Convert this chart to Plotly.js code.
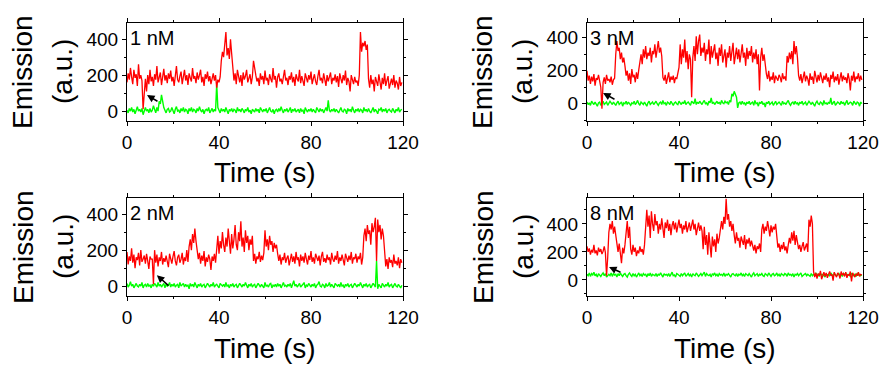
<!DOCTYPE html>
<html>
<head>
<meta charset="utf-8">
<script src="https://cdn.plot.ly/plotly-3.0.1.min.js"></script>
<style>html,body{margin:0;padding:0;background:#fff;}#chart{width:882px;height:365px;}</style>
</head>
<body>
<div id="chart"></div>
<script>
// Sample interval (s)
const step = 0.5;
const panelLabels = ["1 nM", "3 nM", "2 nM", "8 nM"];
const xTicks = [0, 40, 80, 120];
const yTicks = [0, 200, 400];

// 1 nM
const red1 = [160,210,175,240,190,150,230,185,205,140,260,180,200,170,
10,120,180,110,200,150,
230,165,190,140,205,175,250,160,195,215,
145,185,235,170,200,155,210,180,225,165,
190,140,205,250,175,160,195,220,150,185,
230,170,200,145,210,185,165,240,180,195,
155,215,175,200,230,160,190,140,205,180,
220,165,195,150,185,210,170,200,130,175,
160,190,280,330,300,370,440,310,350,290,400,320,250,
170,210,150,230,185,160,200,140,215,175,195,230,160,180,205,150,190,280,230,
200,165,185,140,210,175,195,150,225,170,
185,145,205,180,160,240,175,195,130,190,
210,165,180,150,200,230,170,185,145,195,
175,215,160,190,140,205,180,165,230,155,
195,170,140,210,185,160,200,175,220,150,
180,205,165,145,195,230,170,185,155,210,
175,140,200,165,190,215,150,185,170,205,
160,195,135,210,180,155,200,170,225,145,
185,165,110,200,175,150,190,160,
170,140,200,440,330,380,360,390,340,370,
180,130,200,150,175,110,190,160,140,205,
165,120,185,150,210,140,170,195,125,160,
180,145,200,130,170,155,120,190,140,160];
const green1 = [5,-10,15,0,20,-5,10,-15,5,25,
0,10,-5,15,-20,5,20,0,10,-10,
15,-5,5,30,10,-10,20,0,55,40,
90,50,20,5,-10,10,15,-5,0,20,
5,-15,10,25,0,5,-10,15,0,20,
-5,10,5,-15,15,0,20,-5,10,5,
-10,15,0,25,5,-5,10,-15,5,10,
0,20,-10,5,15,-5,10,0,150,20,
5,-10,15,0,10,-5,20,5,-15,10,
0,15,-5,10,5,-10,20,0,10,-5,
15,5,-10,10,0,20,-5,5,-15,10,
5,-5,15,0,10,-10,20,5,-5,10,
0,15,-10,5,20,0,-5,10,-15,5,
10,-5,15,0,25,5,-10,10,0,15,
-5,5,20,-10,10,0,15,-5,5,10,
-10,15,0,5,-15,20,5,-5,10,0,
15,-5,10,0,-10,20,5,-5,15,0,
10,-10,5,20,0,60,5,-5,10,0,
15,-5,10,0,-10,5,20,0,-5,10,
5,-15,15,0,10,-5,25,5,-10,10,
0,15,-5,10,5,-10,20,0,10,-5,
15,0,-10,5,20,-5,10,0,-15,10,
5,20,-5,10,0,15,-10,5,10,0,
-5,15,5,-10,10,0,20,-5,5,10];

// 3 nM
const red2 = [200,140,170,120,165,135,180,110,155,145,175,125,
100,-30,130,
160,120,175,140,150,130,165,115,145,155,
300,380,320,340,270,310,250,280,230,
170,200,140,185,120,210,160,175,130,190,150,205,
260,300,240,330,280,350,270,310,290,340,250,320,300,360,280,330,380,310,340,290,
160,140,175,120,155,190,130,165,145,170,125,160,150,180,
220,
360,240,330,280,390,250,320,210,300,270,
40,
280,350,260,410,300,380,420,290,340,310,
370,260,330,300,390,240,350,280,320,360,
270,310,230,340,290,360,250,300,330,220,
310,280,350,260,320,370,240,300,340,270,
330,250,300,360,280,310,230,340,270,320,
290,350,250,310,270,330,240,300,80,280,
340,260,300,230,
180,150,200,135,165,145,190,125,170,155,140,175,160,130,185,150,165,140,
290,250,310,270,320,240,380,300,350,280,
170,
140,180,125,160,195,135,170,150,110,185,
145,165,120,200,155,130,175,140,190,160,
125,170,145,185,135,160,100,175,150,195,
130,165,140,180,115,155,190,135,170,145,
160,125,185,150,80,170,140,195,130,165,
150,185,135,170,145];
const green2 = [10,-5,5,-10,15,0,-5,10,0,-15,
5,10,-10,0,15,-5,5,10,-10,0,
15,5,-5,10,0,-10,5,15,-5,0,
10,-15,5,0,15,-5,10,0,-10,5,
0,15,-5,5,20,0,-10,10,5,-5,
10,0,-15,5,15,-5,0,10,-5,5,
15,0,-10,5,10,-5,20,0,5,-10,
10,5,-5,15,0,-10,5,10,0,-5,
15,5,-5,10,0,20,-5,5,10,0,
-10,15,5,0,30,-5,10,0,15,5,
-5,10,20,0,5,-10,15,5,35,0,
10,-5,5,15,0,10,-5,20,5,0,
15,5,10,-5,20,10,60,45,75,55,
40,-25,5,10,-5,15,0,5,-10,10,
0,15,-5,5,10,-10,20,0,5,-15,
10,0,15,-5,5,-20,10,0,15,-5,
5,10,-10,0,15,-5,5,10,0,-10,
15,0,5,-5,10,20,0,-10,5,10,
-5,15,0,5,-10,10,0,15,-5,5,
10,-10,0,15,5,-5,10,0,-15,5,
15,0,-5,10,5,-10,20,0,5,-5,
10,0,35,-5,5,15,-10,0,10,5,
-5,15,0,10,-10,5,20,-5,0,10,
5,-10,15,0,-5,10,5,-15,10,0];

// 2 nM
const red3 = [190,120,165,140,210,130,175,100,160,145,185,115,200,135,150,170,125,180,140,95,165,150,
150,10,200,
130,175,110,160,140,190,120,155,135,170,
145,105,180,150,125,165,195,140,115,160,
175,130,150,185,120,160,140,200,135,
220,260,200,290,240,320,250,210,
150,185,125,170,140,195,110,160,135,175,150,90,165,140,180,130,
200,
280,180,250,210,300,230,190,270,220,320,
250,180,290,210,260,340,230,200,300,250,
360,220,270,190,310,240,280,200,260,230,
280,
140,180,125,165,150,190,135,170,145,185,
310,220,260,200,280,230,250,190,240,210,230,180,
140,175,120,160,145,185,130,155,170,115,
150,180,135,165,125,190,145,160,110,175,
140,165,130,185,150,120,170,145,195,135,
160,125,180,150,140,170,115,165,190,135,
155,130,175,145,160,120,185,150,135,170,
145,195,125,160,140,175,150,115,180,155,
135,170,145,190,125,160,150,180,130,165,
150,185,120,160,
280,320,250,340,290,310,230,350,300,330,
380,140,370,300,340,260,320,280,
170,110,150,95,160,130,145,105,175,125,140,115,160,100,150,130];
const green3 = [15,-5,5,25,0,10,-10,5,15,0,
-5,10,0,20,-10,5,10,-5,15,0,
5,-10,10,0,15,5,-5,20,0,10,
-5,5,15,-10,10,0,5,20,-5,10,
0,15,-5,5,10,-10,20,0,5,15,
-5,10,0,5,-15,15,0,10,-5,20,
5,-10,10,0,15,-5,5,10,-10,0,
15,5,-5,10,0,20,-5,5,10,0,
-10,15,5,0,10,-5,20,0,5,-10,
10,0,15,-5,5,10,-10,0,15,5,
-5,10,0,20,5,-10,10,0,15,-5,
5,10,-10,0,15,5,-5,10,0,-10,
20,0,5,-5,10,15,-10,5,0,10,
-5,15,0,10,-10,5,20,0,5,-5,
10,0,15,-10,5,30,0,10,-5,5,
15,-5,0,10,20,-10,5,0,15,5,
-5,10,0,15,-10,5,10,25,0,-5,
10,5,-10,15,0,5,20,-5,10,0,
-10,15,5,0,10,-5,20,0,5,-10,
10,0,15,-5,5,10,-10,0,15,5,
-5,10,0,20,5,-10,10,0,15,-5,
5,10,-10,0,15,5,-5,140,-15,10,
0,-10,15,5,-5,10,0,20,-5,5,
10,-10,5,15,0,-5,10,0,-10,5];

// 8 nM
const red4 = [240,200,225,180,215,195,250,190,210,175,230,200,220,185,205,240,195,
30,160,
340,400,360,420,330,380,310,
240,200,260,180,120,230,190,250,
350,420,300,380,
220,180,250,200,230,170,210,190,240,200,220,180,250,
420,500,380,460,300,490,400,350,470,390,
420,330,400,360,440,380,300,410,370,430,
350,400,320,390,420,360,410,340,380,430,
370,400,330,390,360,420,340,380,410,350,
390,430,360,400,320,380,410,350,390,
350,220,380,250,320,180,340,270,160,310,240,290,200,330,260,300,
380,420,360,450,400,580,430,470,380,420,350,400,
320,260,340,280,300,230,310,270,250,320,220,290,260,300,240,280,
230,210,250,190,240,220,260,200,
360,400,330,380,350,420,370,310,390,340,380,360,400,330,
230,260,200,250,220,270,210,240,190,250,
300,260,340,280,350,250,320,270,
220,250,200,240,270,210,230,260,200,
430,380,460,400,
60,20,50,10,45,30,65,5,40,55,
25,50,15,45,60,30,40,-5,55,35,
20,50,40,10,60,35,45,25,55,15,
40,30,60,-10,50,35,20,45,30,55,
25,40,35];
const green4 = [40,30,50,25,45,35,55,30,40,20,
45,35,25,40,50,30,45,20,35,40,
30,50,25,45,35,40,20,45,30,50,
35,25,40,45,30,20,40,50,35,25,
45,30,40,20,35,50,30,40,25,45,
35,40,20,45,30,50,25,40,35,30,
45,25,40,35,50,30,20,45,35,40,
30,45,25,40,55,30,35,20,45,40,
35,25,45,30,40,50,25,35,45,30,
40,20,45,35,30,50,40,25,35,45,
30,40,55,25,45,35,30,40,20,45,
35,50,30,40,25,45,35,40,30,50,
25,40,35,45,30,20,40,45,35,30,
45,25,40,35,50,30,40,25,45,35,
30,45,35,20,40,50,30,35,45,25,
40,35,45,30,25,45,40,30,50,35,
25,40,45,30,35,50,30,40,25,45,
35,30,45,40,25,50,35,40,30,45,
20,40,35,45,30,40,50,25,35,40,
45,30,40,35,25,45,30,40,35,50,
30,40,25,45,35,40,30,20,45,35,
40,30,50,35,25,45,40,30,35,45,
30,40,25,45,35,50,30,40,35,25,
45,35,30,40,25,45,35,40,30,35];

// Arrow head / tail positions (data units) per panel
const arrowHeadX = [8.7, 7.0, 13.0, 9.6];
const arrowHeadY = [89, 65, 61, 93];
const arrowTailX = [13.9, 12.6, 18.7, 15.2];
const arrowTailY = [50, 22, -5, 50];

const reds = [red1, red2, red3, red4];
const greens = [green1, green2, green3, green4];

const FONT = "Liberation Sans, Arial, sans-serif";
const W = 882, H = 365;
// panel pixel boxes [left, right, top, bottom]
const boxes = [[127,403,23,121],[587,863,23,121],[127,403,198,296],[587,863,198,296]];
const yRanges = [[-55,490],[-105,490],[-55,490],[-115,585]];

const traces = [];
const layout = {
  width: W, height: H,
  margin: {l:0, r:0, t:0, b:0},
  paper_bgcolor: "#fff", plot_bgcolor: "#fff",
  showlegend: false,
  font: {family: FONT, color: "#000"},
  annotations: []
};

for (let p = 0; p < 4; p++) {
  const sfx = p === 0 ? "" : String(p + 1);
  const xa = "x" + sfx, ya = "y" + sfx;
  const t = reds[p].map((_, i) => i * step);
  const tg = greens[p].map((_, i) => i * step);
  traces.push({x: tg, y: greens[p], xaxis: xa, yaxis: ya, type: "scatter", mode: "lines",
    line: {color: "#00ff00", width: 1.4}, hoverinfo: "skip"});
  traces.push({x: t, y: reds[p], xaxis: xa, yaxis: ya, type: "scatter", mode: "lines",
    line: {color: "#ff0000", width: 1.3}, hoverinfo: "skip"});
  const [l, r, tp, bt] = boxes[p];
  layout["xaxis" + sfx] = {
    domain: [l / W, r / W], anchor: ya, range: [0, 120],
    tickvals: xTicks, ticks: "outside", ticklen: 4, tickwidth: 1, tickcolor: "#000",
    minor: {dtick: 20, tick0: 0, ticks: "outside", ticklen: 2, tickcolor: "#000"},
    showline: true, linecolor: "#000", linewidth: 1, mirror: "ticks",
    showgrid: false, zeroline: false, tickfont: {family: FONT, size: 19, color: "#000"}
  };
  layout["yaxis" + sfx] = {
    domain: [1 - bt / H, 1 - tp / H], anchor: xa, range: yRanges[p],
    tickvals: yTicks, ticks: "outside", ticklen: 4, tickwidth: 1, tickcolor: "#000",
    minor: {dtick: 100, tick0: 0, ticks: "outside", ticklen: 2, tickcolor: "#000"},
    showline: true, linecolor: "#000", linewidth: 1, mirror: "ticks",
    showgrid: false, zeroline: false, tickfont: {family: FONT, size: 19, color: "#000"}
  };
  // panel label
  layout.annotations.push({xref: xa + " domain", yref: ya + " domain", x: 0.005, y: 0.845,
    xanchor: "left", yanchor: "middle", showarrow: false, text: panelLabels[p],
    font: {family: FONT, size: 20, color: "#000"}});
  // arrow
  layout.annotations.push({xref: xa, yref: ya, axref: xa, ayref: ya,
    x: arrowHeadX[p], y: arrowHeadY[p], ax: arrowTailX[p], ay: arrowTailY[p],
    showarrow: true, arrowhead: 2, arrowsize: 1, arrowwidth: 1.5, arrowcolor: "#000", text: ""});
  // x title
  const cx = (l + r) / 2;
  layout.annotations.push({xref: "paper", yref: "paper", x: cx / W, y: 1 - (bt + 52) / H,
    xanchor: "center", yanchor: "middle", showarrow: false, text: "Time (s)",
    font: {family: FONT, size: 28, color: "#000"}});
  // y title (two lines)
  const cy = (tp + bt) / 2;
  layout.annotations.push({xref: "paper", yref: "paper", x: (l - 104) / W, y: 1 - cy / H,
    xanchor: "center", yanchor: "middle", showarrow: false, text: "Emission", textangle: -90,
    font: {family: FONT, size: 28, color: "#000"}});
  layout.annotations.push({xref: "paper", yref: "paper", x: (l - 64) / W, y: 1 - cy / H,
    xanchor: "center", yanchor: "middle", showarrow: false, text: "(a.u.)", textangle: -90,
    font: {family: FONT, size: 28, color: "#000"}});
}

Plotly.newPlot("chart", traces, layout, {staticPlot: true, displayModeBar: false});
</script>
</body>
</html>
